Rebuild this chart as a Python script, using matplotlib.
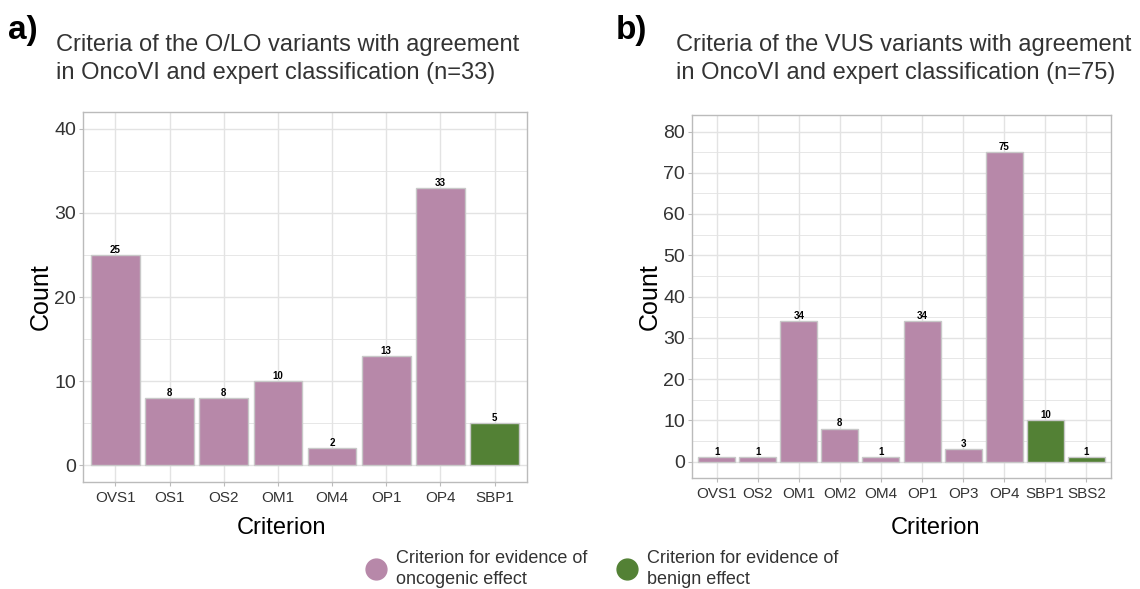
import matplotlib.pyplot as plt
from matplotlib.lines import Line2D
from matplotlib.ticker import MultipleLocator

plt.rcParams["font.family"] = ["Liberation Sans", "DejaVu Sans"]

W, H = 1140, 589

# panel a) O/LO variants
crit_a = ["OVS1", "OS1", "OS2", "OM1", "OM4", "OP1", "OP4", "SBP1"]
count_a = [25, 8, 8, 10, 2, 13, 33, 5]
kind_a = ["onc", "onc", "onc", "onc", "onc", "onc", "onc", "ben"]

# panel b) VUS variants
crit_b = ["OVS1", "OS2", "OM1", "OM2", "OM4", "OP1", "OP3", "OP4", "SBP1", "SBS2"]
count_b = [1, 1, 34, 8, 1, 34, 3, 75, 10, 1]
kind_b = ["onc", "onc", "onc", "onc", "onc", "onc", "onc", "onc", "ben", "ben"]

COLORS = {"onc": "#B788A9", "ben": "#538135"}
GRID = "#E3E3E3"
TXT = "#333333"


def px_axes(fig, x0, y0, x1, y1):
    return fig.add_axes([x0 / W, 1 - y1 / H, (x1 - x0) / W, (y1 - y0) / H])


def panel(ax, crit, counts, kinds, ymax, step):
    xs = range(1, len(crit) + 1)
    ax.bar(xs, counts, width=0.9, color=[COLORS[k] for k in kinds],
           edgecolor="#C8C8C8", linewidth=1.0, zorder=3)
    for x, c in zip(xs, counts):
        ax.text(x, c, str(c), ha="center", va="bottom", fontsize=7,
                weight="bold", color="black", zorder=4)
    pad = ymax * 0.05
    ax.set_ylim(-pad, ymax + pad)
    ax.set_xlim(0.4, len(crit) + 0.6)
    ax.set_xticks(list(xs))
    ax.set_xticklabels(crit)
    ax.yaxis.set_major_locator(MultipleLocator(step))
    ax.yaxis.set_minor_locator(MultipleLocator(step / 2))
    ax.grid(which="major", color=GRID, linewidth=1.0, zorder=0)
    ax.grid(which="minor", axis="y", color=GRID, linewidth=0.6, zorder=0)
    ax.set_axisbelow(True)
    for s in ax.spines.values():
        s.set_color("#BBBBBB")
        s.set_linewidth(1.0)
    ax.tick_params(axis="y", which="major", labelsize=14, colors="#BBBBBB",
                   labelcolor=TXT, length=3, pad=2)
    ax.tick_params(axis="x", labelsize=11, colors="#BBBBBB", labelcolor=TXT, length=3)
    ax.tick_params(which="minor", length=0)
    ax.set_ylabel("Count", fontsize=18, color="black", labelpad=1)


fig = plt.figure(figsize=(W / 100, H / 100), dpi=100)

ax_a = px_axes(fig, 83, 112, 527, 482)
panel(ax_a, crit_a, count_a, kind_a, 40, 10)
ax_b = px_axes(fig, 692, 115, 1111, 478)
panel(ax_b, crit_b, count_b, kind_b, 80, 10)

fig.text(8 / W, 1 - 30 / H, "a)", fontsize=24, weight="bold", va="center")
fig.text(56 / W, 1 - 59 / H,
         "Criteria of the O/LO variants with agreement\nin OncoVI and expert classification (n=33)",
         fontsize=17, color=TXT, va="center", linespacing=1.3)
fig.text(616 / W, 1 - 30 / H, "b)", fontsize=24, weight="bold", va="center")
fig.text(676 / W, 1 - 59 / H,
         "Criteria of the VUS variants with agreement\nin OncoVI and expert classification (n=75)",
         fontsize=17, color=TXT, va="center", linespacing=1.3)

fig.text(281 / W, 1 - 528 / H, "Criterion", fontsize=17, ha="center", va="center")
fig.text(935 / W, 1 - 528 / H, "Criterion", fontsize=17, ha="center", va="center")

handles = [
    Line2D([], [], marker="o", ls="", markersize=15, color=COLORS["onc"]),
    Line2D([], [], marker="o", ls="", markersize=15, color=COLORS["ben"]),
]
labels = ["Criterion for evidence of\noncogenic effect",
          "Criterion for evidence of\nbenign effect"]
leg = fig.legend(handles, labels, ncol=2, loc="center left",
                 bbox_to_anchor=(358 / W, 1 - 569 / H), frameon=False, fontsize=13,
                 handletextpad=0.1, columnspacing=1.2, labelcolor=TXT,
                 borderaxespad=0, borderpad=0)
for t in leg.get_texts():
    t.set_linespacing(1.3)

fig.savefig("out.png", dpi=100)
